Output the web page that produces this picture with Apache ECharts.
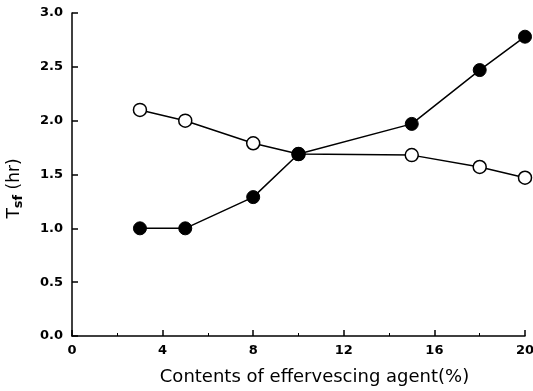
<!DOCTYPE html>
<html><head><meta charset="utf-8">
<script src="https://cdn.jsdelivr.net/npm/echarts@6/dist/echarts.min.js"></script>
<style>html,body{margin:0;padding:0;background:#fff}#c{width:533px;height:391px}</style>
</head><body><div id="c"></div>
<script>
var xFilled = [3, 5, 8, 10, 15, 18, 20];
var yFilled = [1.0, 1.0, 1.29, 1.69, 1.97, 2.47, 2.78];
var xOpen = [3, 5, 8, 10, 15, 18, 20];
var yOpen = [2.1, 2.0, 1.79, 1.69, 1.68, 1.57, 1.47];
var xTicks = [0, 4, 8, 12, 16, 20];
var yTicks = [0.0, 0.5, 1.0, 1.5, 2.0, 2.5, 3.0];

function pairs(xs, ys){ return xs.map(function(x,i){return [x, ys[i]];}); }
var font = 'DejaVu Sans';
var chart = echarts.init(document.getElementById('c'));
chart.setOption({
  animation:false,
  backgroundColor:'#fff',
  grid:{left:72, right:8, top:13, bottom:55, containLabel:false, outerBoundsMode:'none'},
  xAxis:{type:'value', min:xTicks[0], max:xTicks[xTicks.length-1], interval:4,
    axisLine:{lineStyle:{color:'#000', width:1.5}},
    axisTick:{inside:true, length:6, lineStyle:{color:'#000', width:1.5}},
    minorTick:{show:true, splitNumber:2, length:3, lineStyle:{color:'#000', width:1}},
    splitLine:{show:false},
    axisLabel:{color:'#000', fontSize:13, fontFamily:font, fontWeight:'bold', margin:8},
    name:'Contents of effervescing agent(%)', nameLocation:'middle', nameGap:32,
    nameTextStyle:{color:'#000', fontSize:18, fontFamily:font, padding:[0,0,0,32]}
  },
  yAxis:{type:'value', min:yTicks[0], max:yTicks[yTicks.length-1], interval:0.5,
    axisLine:{show:true, lineStyle:{color:'#000', width:1.5}},
    axisTick:{show:true, inside:true, length:6, lineStyle:{color:'#000', width:1.5}},
    splitLine:{show:false},
    axisLabel:{color:'#000', fontSize:13, fontFamily:font, fontWeight:'bold', margin:9,
      formatter:function(v){return v.toFixed(1);}},
    name:'{t|T}{s|sf}{t| (hr)}', nameLocation:'middle', nameGap:47, nameRotate:90,
    nameTextStyle:{color:'#000', fontFamily:font, padding:[0,28,0,0],
      rich:{t:{fontSize:17, fontFamily:font, color:'#000'}, s:{fontSize:13, fontFamily:font, fontWeight:'bold', color:'#000', verticalAlign:'bottom', padding:[8,0,0,0]}}}
  },
  series:[
    {type:'line', data:pairs(xOpen,yOpen), symbol:'circle', symbolSize:13,
      lineStyle:{color:'#000', width:1.5},
      itemStyle:{color:'#fff', borderColor:'#000', borderWidth:1.5}, z:2},
    {type:'line', data:pairs(xFilled,yFilled), symbol:'circle', symbolSize:13,
      lineStyle:{color:'#000', width:1.5},
      itemStyle:{color:'#000', borderColor:'#000', borderWidth:1}, z:3}
  ]
});
</script></body></html>
